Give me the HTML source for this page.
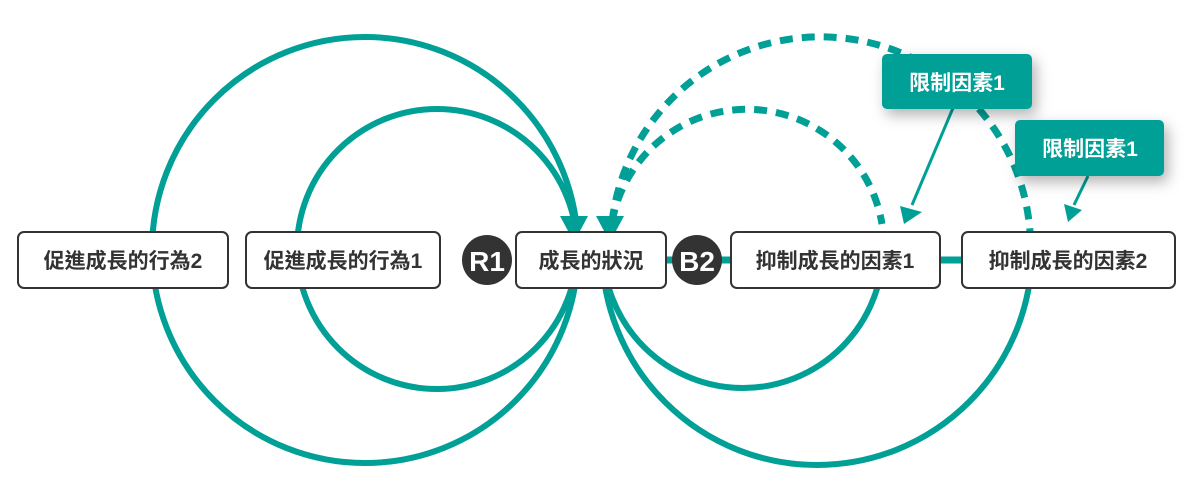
<!DOCTYPE html>
<html><head><meta charset="utf-8"><style>
body{margin:0;background:#fff;width:1200px;height:490px;overflow:hidden;font-family:"Liberation Sans","Noto Sans CJK TC",sans-serif}
</style></head><body>
<svg width="1200" height="490" xmlns="http://www.w3.org/2000/svg" style="position:absolute;left:0;top:0">
<defs>
<filter id="sh" x="-30%" y="-30%" width="170%" height="190%"><feDropShadow dx="4" dy="6" stdDeviation="7" flood-color="#000" flood-opacity="0.3"/></filter>
</defs>
<g fill="none" stroke="#00a096" stroke-width="6">
<circle cx="365" cy="250" r="213"/>
<circle cx="437" cy="249" r="140"/>
<path d="M602 250 A215 215 0 0 0 1032 250"/>
<path d="M603 248 A140 140 0 0 0 883 248"/>
<line x1="665" y1="260" x2="965" y2="260" stroke-width="7"/>
<g stroke-dasharray="13 9" stroke-width="7">
<path d="M612 222 A210 210 0 0 1 1030 232"/>
<path d="M612 222 A137 137 0 0 1 882 224"/>
</g>
<line x1="953" y1="108" x2="912" y2="205" stroke-width="3"/>
<line x1="1088" y1="176" x2="1074" y2="205" stroke-width="3"/>
</g>
<g fill="#00a096">
<polygon points="560,216 588,216 574,242"/>
<polygon points="596,216 624,216 610,242"/>
<polygon points="900,206 922,212 904,224"/>
<polygon points="1064,204 1082,210 1068,222"/>
</g>
<g fill="#fff" stroke="#333" stroke-width="2">
<rect x="18" y="232" width="210" height="56" rx="6"/>
<rect x="246" y="232" width="194" height="56" rx="6"/>
<rect x="516" y="232" width="150" height="56" rx="6"/>
<rect x="731" y="232" width="209" height="56" rx="6"/>
<rect x="962" y="232" width="213" height="56" rx="6"/>
</g>
<circle cx="487" cy="260" r="25" fill="#333"/>
<circle cx="697" cy="260" r="25" fill="#333"/>
<g filter="url(#sh)" fill="#00a096">
<rect x="882" y="54" width="150" height="55" rx="5"/>
<rect x="1015" y="120" width="149" height="56" rx="5"/>
</g>
<g font-family="Liberation Sans, Noto Sans CJK TC, sans-serif" font-weight="bold" text-anchor="middle" font-size="21" fill="#333">
<text x="123" y="268">促進成長的行為2</text>
<text x="343" y="268">促進成長的行為1</text>
<text x="591" y="268">成長的狀況</text>
<text x="835" y="268">抑制成長的因素1</text>
<text x="1068" y="268">抑制成長的因素2</text>
<text x="487" y="271" fill="#fff" font-size="28">R1</text>
<text x="697" y="271" fill="#fff" font-size="28">B2</text>
<text x="957" y="90" fill="#fff">限制因素1</text>
<text x="1090" y="156" fill="#fff">限制因素1</text>
</g>
</svg>
</body></html>
